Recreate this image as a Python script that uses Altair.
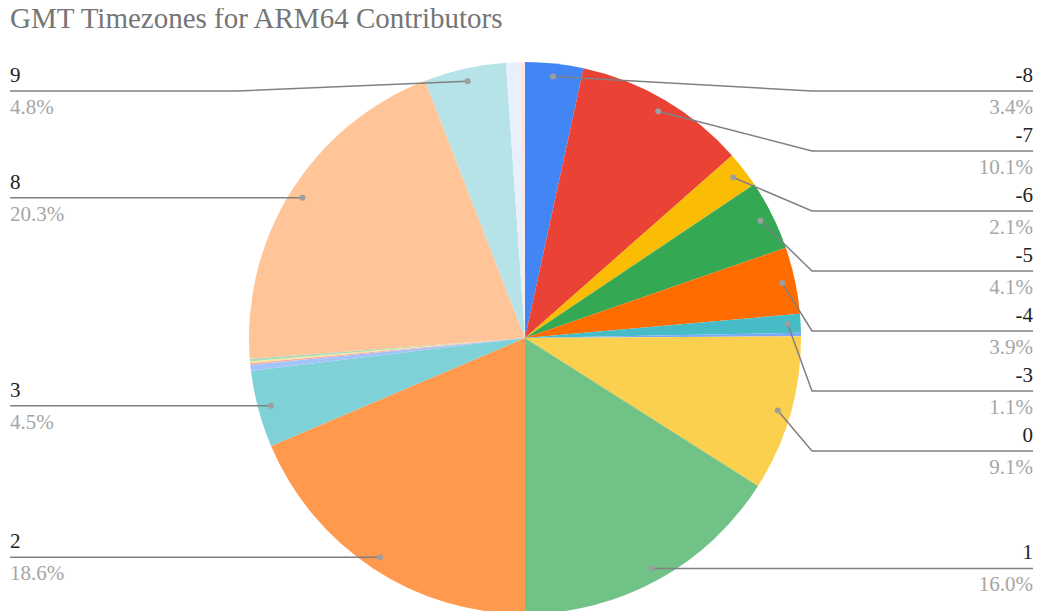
import math
import altair as alt
import pandas as pd

# ---- data ----
categories = ["-8", "-7", "-6", "-5", "-4", "-3", "-2", "0", "1", "2", "3",
              "4", "5", "6", "7", "8", "9", "10", "11"]
shares = [3.4, 10.1, 2.1, 4.1, 3.9, 1.1, 0.2, 9.1, 16.0, 18.6, 4.5,
          0.35, 0.1, 0.1, 0.15, 20.3, 4.8, 0.75, 0.35]
colors = ["#4285F4", "#EA4335", "#FBBC04", "#34A853", "#FF6D01", "#46BDC6",
          "#7BAAF7", "#FCD04F", "#71C287", "#FF994D", "#7ED1D7", "#A3C3FA",
          "#F6AEA9", "#FDE49B", "#AEDCBA", "#FFC599", "#B5E3E7", "#E8F0FE",
          "#FDE7E7"]
title_text = "GMT Timezones for ARM64 Contributors"

# ---- layout ----
W, H = 1026, 603
CX, CY = 517, 330
R = 276
R_DOT = 263
ELBOW = 287
TOP = 83
GAP = 60
MIN_PCT = 1.0
END_R, END_L = 1025, 2
FONT = "Liberation Serif, Times New Roman, serif"

total = sum(shares)
rows = []
cum = 0.0
for i, (c, v) in enumerate(zip(categories, shares)):
    mid = (cum + v / 2) / total * 2 * math.pi
    cum += v
    rows.append(dict(category=c, share=v, idx=i, pct=v / total * 100,
                     mid=mid,
                     dx=CX + R_DOT * math.sin(mid),
                     dy=CY - R_DOT * math.cos(mid)))
arcs = pd.DataFrame(rows)

labeled = [r for r in rows if r["pct"] >= MIN_PCT]
right = sorted([r for r in labeled if r["mid"] < math.pi], key=lambda r: r["mid"])
left = sorted([r for r in labeled if r["mid"] >= math.pi], key=lambda r: -r["mid"])

lab_rows, line_rows = [], []
for side, group in (("R", right), ("L", left)):
    prev = TOP - GAP
    for r in group:
        ly = max(r["dy"], prev + GAP)
        prev = ly
        ex = CX + ELBOW if side == "R" else CX - ELBOW
        endx = END_R if side == "R" else END_L
        lab_rows.append(dict(category=r["category"], side=side, x=endx,
                             y=ly, dx=r["dx"], dy=r["dy"],
                             pct_text=f"{r['pct']:.1f}%"))
        for k, (px, py) in enumerate([(r["dx"], r["dy"]), (ex, ly), (endx, ly)]):
            line_rows.append(dict(category=r["category"], pt=k, px=px, py=py))
labels = pd.DataFrame(lab_rows)
lines = pd.DataFrame(line_rows)
title_df = pd.DataFrame([dict(t=title_text, x=2, y=20)])

xs = alt.Scale(domain=[0, W], range=[0, W], nice=False, zero=False)
ys = alt.Scale(domain=[0, H], range=[0, H], nice=False, zero=False)

pie = alt.Chart(arcs).mark_arc(radius=R).encode(
    theta=alt.Theta("share:Q", stack=True),
    color=alt.Color("category:N", scale=alt.Scale(domain=categories, range=colors), legend=None),
    order=alt.Order("idx:Q"),
    x=alt.value(CX), y=alt.value(CY),
)

leader = alt.Chart(lines).mark_line(color="#808080", strokeWidth=1.5).encode(
    x=alt.X("px:Q", scale=xs, axis=None),
    y=alt.Y("py:Q", scale=ys, axis=None),
    detail="category:N",
    order="pt:Q",
)

dots = alt.Chart(labels).mark_circle(size=36, color="#9E9E9E", opacity=1).encode(
    x=alt.X("dx:Q", scale=xs, axis=None),
    y=alt.Y("dy:Q", scale=ys, axis=None),
)

def texts(side, align):
    base = alt.Chart(labels).transform_filter(alt.datum.side == side)
    name = base.mark_text(align=align, baseline="alphabetic", font=FONT, fontSize=21,
                          color="#222222", dy=-9).encode(
        x=alt.X("x:Q", scale=xs, axis=None), y=alt.Y("y:Q", scale=ys, axis=None),
        text="category:N")
    pct = base.mark_text(align=align, baseline="alphabetic", font=FONT, fontSize=21,
                         color="#A6A6A6", dy=23).encode(
        x=alt.X("x:Q", scale=xs, axis=None), y=alt.Y("y:Q", scale=ys, axis=None),
        text="pct_text:N")
    return [name, pct]

title = alt.Chart(title_df).mark_text(align="left", baseline="alphabetic", font=FONT,
                                      fontSize=29, color="#757575").encode(
    x=alt.X("x:Q", scale=xs, axis=None), y=alt.Y("y:Q", scale=ys, axis=None), text="t:N")

chart = alt.layer(pie, leader, dots, *texts("R", "right"), *texts("L", "left"), title).properties(
    width=W, height=H, autosize=alt.AutoSizeParams(type="none"), padding=0,
    background="white",
).configure_view(stroke=None)

chart.save("out.html", embed_options={"renderer": "svg", "actions": False})
